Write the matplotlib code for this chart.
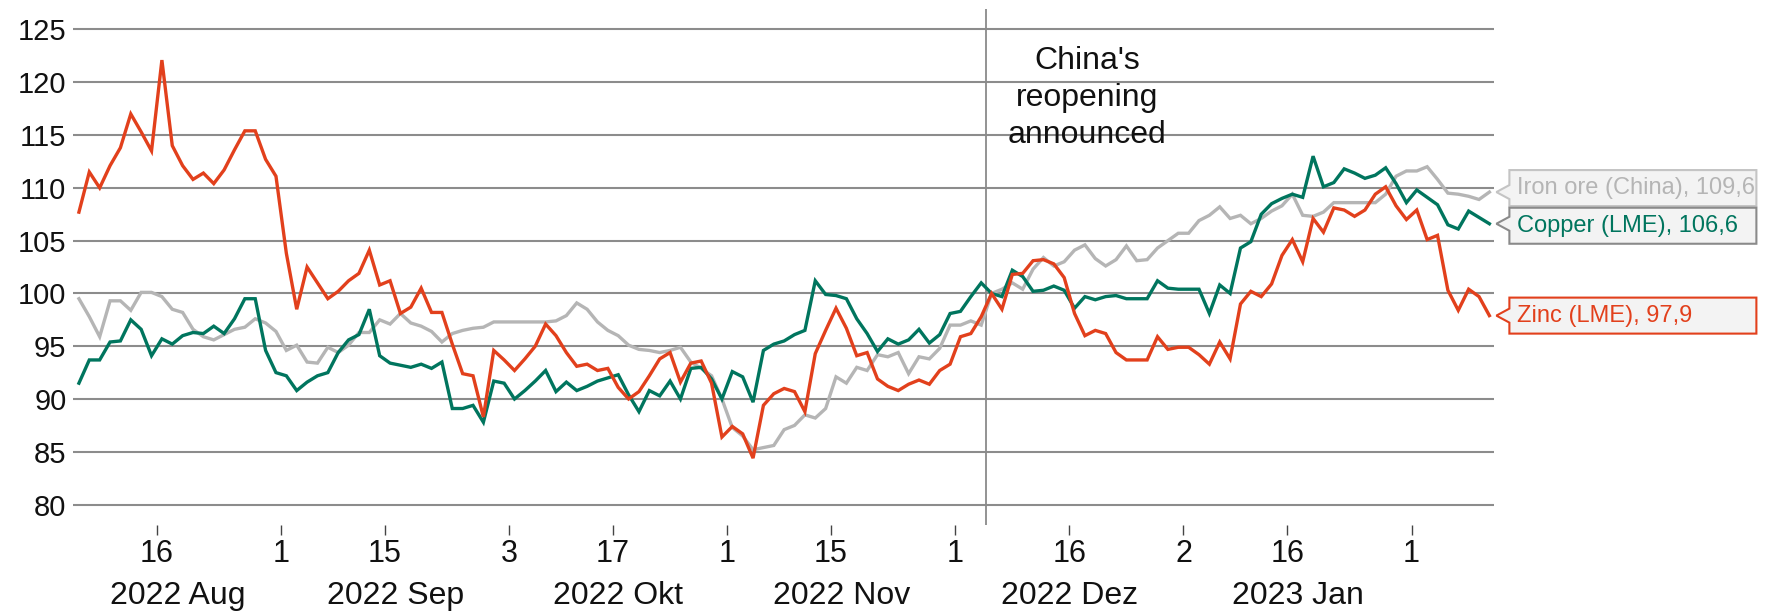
import pandas as pd
import matplotlib
matplotlib.use("Agg")
import matplotlib.pyplot as plt
import matplotlib.transforms as mtransforms
from matplotlib.patches import Polygon

plt.rcParams['font.family'] = ['Liberation Sans', 'DejaVu Sans']

# business days, index = 100 on the day of the announcement
start_date = '2022-08-04'
end_date = '2023-02-10'

zinc = [107.7, 111.5, 110.0, 112.1, 113.8, 117.0, 115.3, 113.5, 122.1, 114.0,
        112.1, 110.8, 111.4, 110.4, 111.7, 113.6, 115.4, 115.4, 112.7, 111.1,
        103.8, 98.5, 102.5, 101.0, 99.5, 100.2, 101.2, 101.9, 104.1, 100.8,
        101.2, 98.1, 98.7, 100.5, 98.2, 98.2, 95.2, 92.4, 92.2, 88.3,
        94.6, 93.7, 92.7, 93.8, 95.0, 97.1, 96.0, 94.4, 93.1, 93.3,
        92.7, 92.9, 91.1, 90.0, 90.7, 92.2, 93.8, 94.4, 91.6, 93.4,
        93.6, 91.5, 86.4, 87.4, 86.7, 84.4, 89.4, 90.5, 91.0, 90.7,
        88.8, 94.3, 96.5, 98.6, 96.7, 94.1, 94.4, 91.9, 91.2, 90.8,
        91.4, 91.8, 91.4, 92.7, 93.3, 95.9, 96.2, 97.8, 100.0, 98.5,
        101.8, 101.9, 103.1, 103.2, 102.8, 101.5, 98.1, 96.0, 96.5, 96.2,
        94.4, 93.7, 93.7, 93.7, 95.9, 94.7, 94.9, 94.9, 94.2, 93.3,
        95.4, 93.8, 99.0, 100.2, 99.7, 100.9, 103.6, 105.1, 103.0, 107.1,
        105.8, 108.1, 107.9, 107.3, 107.9, 109.4, 110.1, 108.3, 107.0, 107.9,
        105.1, 105.5, 100.3, 98.4, 100.4, 99.7, 97.9]

copper = [91.5, 93.7, 93.7, 95.4, 95.5, 97.5, 96.6, 94.1, 95.7, 95.2,
          96.0, 96.3, 96.2, 96.9, 96.2, 97.6, 99.5, 99.5, 94.6, 92.5,
          92.2, 90.8, 91.6, 92.2, 92.5, 94.4, 95.6, 96.1, 98.5, 94.1,
          93.4, 93.2, 93.0, 93.3, 92.9, 93.5, 89.1, 89.1, 89.4, 87.8,
          91.7, 91.5, 90.0, 90.8, 91.7, 92.7, 90.7, 91.6, 90.8, 91.2,
          91.7, 92.0, 92.3, 90.4, 88.8, 90.8, 90.3, 91.7, 90.0, 92.9,
          93.0, 91.9, 90.0, 92.6, 92.1, 89.7, 94.6, 95.2, 95.5, 96.1,
          96.5, 101.2, 99.9, 99.8, 99.5, 97.6, 96.2, 94.5, 95.7, 95.2,
          95.6, 96.6, 95.3, 96.1, 98.1, 98.3, 99.7, 101.0, 100.0, 99.7,
          102.2, 101.6, 100.2, 100.3, 100.7, 100.3, 98.6, 99.7, 99.4, 99.7,
          99.8, 99.5, 99.5, 99.5, 101.2, 100.5, 100.4, 100.4, 100.4, 98.1,
          100.8, 100.0, 104.3, 104.9, 107.5, 108.5, 109.0, 109.4, 109.1, 113.0,
          110.1, 110.5, 111.8, 111.4, 110.9, 111.2, 111.9, 110.4, 108.6, 109.8,
          109.1, 108.4, 106.5, 106.1, 107.8, 107.2, 106.6]

iron_ore = [99.5, 97.8, 95.9, 99.3, 99.3, 98.4, 100.1, 100.1, 99.7, 98.5,
            98.2, 96.6, 95.9, 95.6, 96.1, 96.6, 96.8, 97.6, 97.2, 96.4,
            94.6, 95.1, 93.5, 93.4, 94.9, 94.4, 95.1, 96.3, 96.3, 97.5,
            97.1, 98.1, 97.2, 96.9, 96.4, 95.4, 96.2, 96.5, 96.7, 96.8,
            97.3, 97.3, 97.3, 97.3, 97.3, 97.3, 97.4, 97.9, 99.1, 98.5,
            97.3, 96.5, 96.0, 95.1, 94.7, 94.6, 94.4, 94.6, 94.9, 93.5,
            92.9, 92.2, 90.0, 87.3, 86.5, 85.2, 85.4, 85.6, 87.1, 87.5,
            88.5, 88.2, 89.1, 92.1, 91.5, 93.0, 92.7, 94.2, 94.0, 94.4,
            92.4, 94.0, 93.8, 94.8, 97.0, 97.0, 97.4, 97.0, 100.0, 100.4,
            101.0, 100.4, 102.3, 103.4, 102.6, 103.0, 104.1, 104.6, 103.3, 102.6,
            103.2, 104.5, 103.1, 103.2, 104.3, 105.0, 105.7, 105.7, 106.9, 107.4,
            108.2, 107.1, 107.4, 106.6, 107.1, 107.8, 108.3, 109.4, 107.4, 107.3,
            107.7, 108.6, 108.6, 108.6, 108.6, 108.6, 109.4, 111.1, 111.6, 111.6,
            112.0, 110.8, 109.5, 109.4, 109.2, 108.9, 109.6]

series_names = ['Iron ore (China)', 'Copper (LME)', 'Zinc (LME)']
series_colors = ['#b5b5b5', '#00755e', '#e2401c']
edge_colors = ['#c4c4c4', '#8a8a8a', '#e2401c']
label_shift = [4, -2, 0]   # px, to keep the boxes apart

tick_dates = ['2022-08-16', '2022-09-01', '2022-09-15', '2022-10-03', '2022-10-17',
              '2022-11-01', '2022-11-15', '2022-12-01', '2022-12-16', '2023-01-02',
              '2023-01-16', '2023-02-01']
month_starts = ['2022-08-01', '2022-09-01', '2022-10-01', '2022-11-01',
                '2022-12-01', '2023-01-01', '2023-02-01']
month_labels = ['2022 Aug', '2022 Sep', '2022 Okt', '2022 Nov', '2022 Dez', '2023 Jan']
event_date = '2022-12-06'
event_text = "China's\nreopening\nannounced"

dates = pd.bdate_range(start_date, end_date)
x = list(range(len(dates)))


def pos(d):
    return dates.searchsorted(pd.Timestamp(d)) - 0.5


fig = plt.figure(figsize=(17.78, 6.12), dpi=100)
ax = fig.add_axes([0.0413, 0.1422, 0.7990, 0.8431])

for vals, col in zip([iron_ore, copper, zinc], series_colors):
    ax.plot(x, vals, color=col, lw=2.4, solid_joinstyle='miter', zorder=3)

ax.set_xlim(-0.53, 136.45)
ax.set_ylim(78.07, 126.94)
ax.set_yticks(range(80, 126, 5))
ax.yaxis.grid(True, color='#8c8c8c', lw=1.5)
ax.set_axisbelow(True)
for s in ax.spines.values():
    s.set_visible(False)
ax.tick_params(axis='y', length=0, pad=5, labelsize=21, labelcolor='#111111')

ax.set_xticks([pos(d) for d in tick_dates])
ax.set_xticklabels([str(pd.Timestamp(d).day) for d in tick_dates])
ax.tick_params(axis='x', length=7, width=1.0, color='#444444', pad=3,
               labelsize=22, labelcolor='#111111')

blend = mtransforms.blended_transform_factory(ax.transData, ax.transAxes)
for i, lab in enumerate(month_labels):
    xm = (pos(month_starts[i]) + pos(month_starts[i + 1])) / 2
    ax.text(xm, -0.138, lab, transform=blend, ha='center', va='center',
            fontsize=23, color='#111111')

ev = pos(event_date)
ax.axvline(ev, color='#8a8a8a', lw=1.3, zorder=2)
ax.annotate(event_text, xy=(ev, 1), xycoords=('data', 'axes fraction'),
            xytext=(101 * 0.72, -27), textcoords='offset points',
            ha='center', va='top', fontsize=23, linespacing=1.3, color='#111111')

# end-of-line callouts
for vals, name, col, ec, dy in zip([iron_ore, copper, zinc], series_names,
                                   series_colors, edge_colors, label_shift):
    trans = mtransforms.IdentityTransform() + \
        mtransforms.ScaledTranslation(x[-1], vals[-1], ax.transData)
    h = 18
    verts = [(7, 0), (20, -7), (20, dy - h), (267, dy - h), (267, dy + h),
             (20, dy + h), (20, 7)]
    ax.add_patch(Polygon(verts, closed=True, transform=trans, facecolor='#f3f3f3',
                         edgecolor=ec, lw=1.5, clip_on=False, zorder=5))
    txt = f"{name}, {vals[-1]:.1f}".replace('.', ',')
    ax.text(28, dy, txt, transform=trans, ha='left', va='center', fontsize=17,
            color=col, clip_on=False, zorder=6)

fig.savefig('out.png', dpi=100, facecolor='white')
